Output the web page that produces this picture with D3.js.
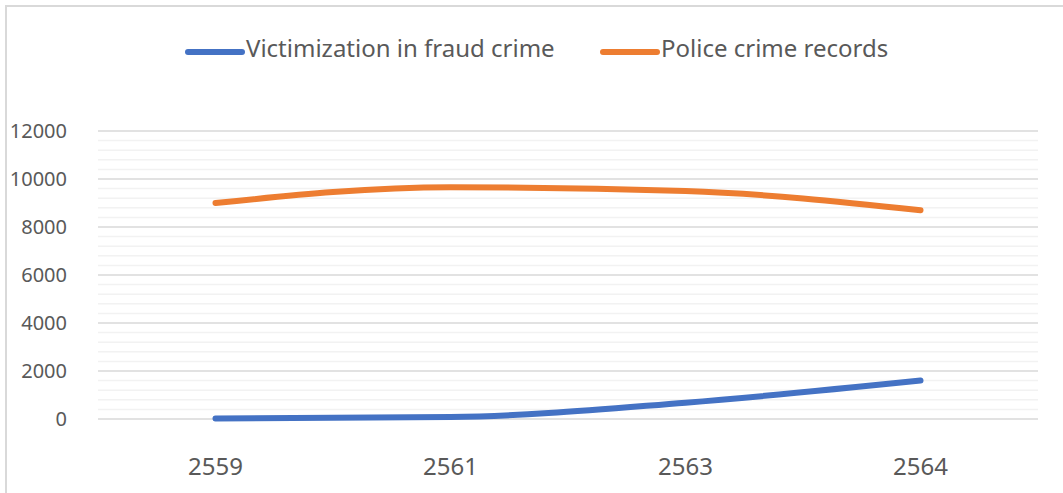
<!DOCTYPE html>
<html>
<head>
<meta charset="utf-8">
<script src="https://cdn.jsdelivr.net/npm/d3@7"></script>
<style>
  body { margin: 0; background: #fff; }
  text { font-family: "Noto Sans", "Open Sans", sans-serif; fill: #595959; }
</style>
</head>
<body>
<div id="chart"></div>
<script>
// Chart data (Thai Buddhist-era years)
const years = ["2559", "2561", "2563", "2564"];
const fraudVictims = [20, 80, 680, 1600];
const policeRecords = [9000, 9660, 9500, 8700];
const yTicks = [0, 2000, 4000, 6000, 8000, 10000, 12000];

const seriesNames = ["Victimization in fraud crime", "Police crime records"];
const seriesColors = ["#4472C4", "#ED7D31"];

const width = 1063;
const height = 493;
const margin = { top: 131, right: 25, bottom: 74, left: 98 };

const svg = d3.select("#chart")
  .append("svg")
  .attr("width", width)
  .attr("height", height);

// chart frame (cropped at right/bottom in the original)
svg.append("rect")
  .attr("x", 6)
  .attr("y", 6)
  .attr("width", width + 10)
  .attr("height", height + 10)
  .attr("fill", "none")
  .attr("stroke", "#d9d9d9")
  .attr("stroke-width", 2);

const x = d3.scalePoint()
  .domain(years)
  .range([margin.left, width - margin.right])
  .padding(0.5);

const y = d3.scaleLinear()
  .domain([0, 12000])
  .range([height - margin.bottom, margin.top]);

// minor gridlines every 400
const minor = d3.range(400, 12000, 400).filter((v) => v % 2000 !== 0);
svg.append("g")
  .selectAll("line")
  .data(minor)
  .join("line")
  .attr("x1", margin.left)
  .attr("x2", width - margin.right)
  .attr("y1", (d) => y(d))
  .attr("y2", (d) => y(d))
  .attr("stroke", "#f2f2f2")
  .attr("stroke-width", 1.5);

// major gridlines
svg.append("g")
  .selectAll("line")
  .data(yTicks)
  .join("line")
  .attr("x1", margin.left)
  .attr("x2", width - margin.right)
  .attr("y1", (d) => y(d))
  .attr("y2", (d) => y(d))
  .attr("stroke", "#d9d9d9")
  .attr("stroke-width", 1.5);

// y tick labels
svg.append("g")
  .selectAll("text")
  .data(yTicks)
  .join("text")
  .attr("x", 67)
  .attr("y", (d) => y(d) + 7)
  .attr("text-anchor", "end")
  .attr("font-size", 20)
  .text((d) => d);

// x tick labels
svg.append("g")
  .selectAll("text")
  .data(years)
  .join("text")
  .attr("x", (d) => x(d))
  .attr("y", 475)
  .attr("text-anchor", "middle")
  .attr("font-size", 24)
  .text((d) => d);

// lines (smoothed, extrema kept at the data points)
const line = d3.line()
  .x((d, i) => x(years[i]))
  .y((d) => y(d))
  .curve(d3.curveMonotoneX);

[fraudVictims, policeRecords].forEach((vals, i) => {
  svg.append("path")
    .datum(vals)
    .attr("d", line)
    .attr("fill", "none")
    .attr("stroke", seriesColors[i])
    .attr("stroke-width", 6)
    .attr("stroke-linecap", "round")
    .attr("stroke-linejoin", "round");
});

// legend
const legendX = [188, 603];
const legend = svg.append("g");
seriesNames.forEach((name, i) => {
  legend.append("line")
    .attr("x1", legendX[i])
    .attr("x2", legendX[i] + 54)
    .attr("y1", 52)
    .attr("y2", 52)
    .attr("stroke", seriesColors[i])
    .attr("stroke-width", 6)
    .attr("stroke-linecap", "round");
  legend.append("text")
    .attr("x", legendX[i] + 58)
    .attr("y", 57)
    .attr("font-size", 24)
    .text(name);
});
</script>
</body>
</html>
